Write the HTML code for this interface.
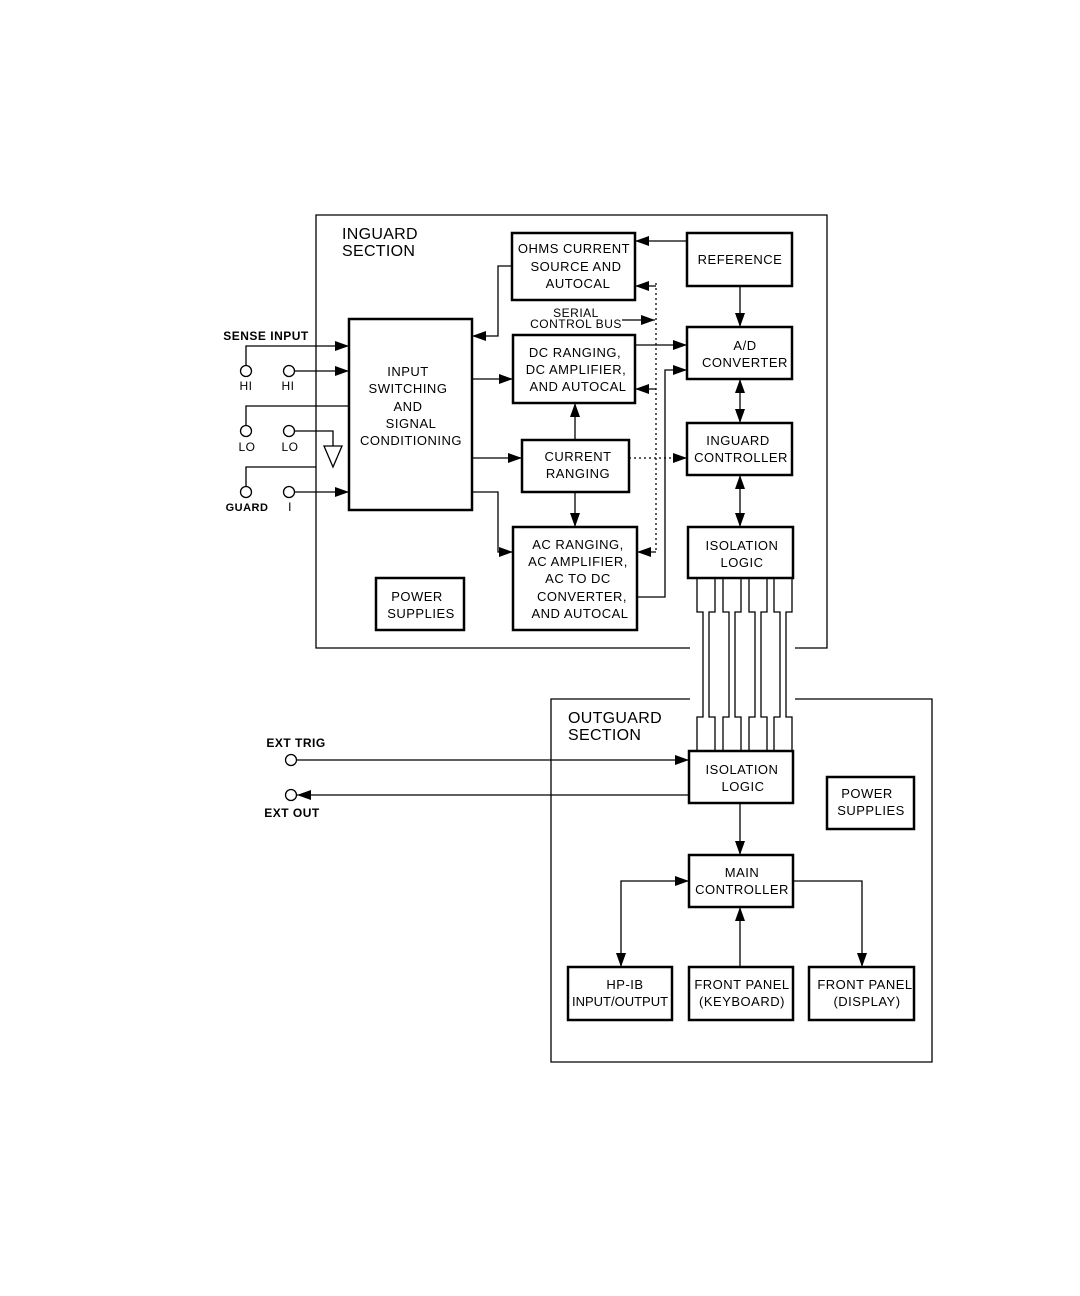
<!DOCTYPE html>
<html><head><meta charset="utf-8"><style>
html,body{margin:0;padding:0;background:#fff;}
svg{display:block;}
text{font-family:"Liberation Sans",sans-serif;font-size:13px;fill:#000;text-anchor:middle;letter-spacing:0.5px;}
.t{font-size:16px;text-anchor:start;letter-spacing:0.3px;}
.s{font-size:12px;font-weight:bold;}
</style></head><body>
<svg width="1080" height="1296" viewBox="0 0 1080 1296" xmlns="http://www.w3.org/2000/svg">
<defs>
<marker id="a" viewBox="0 0 14 10" refX="14" refY="5" markerWidth="14" markerHeight="10" markerUnits="userSpaceOnUse" orient="auto-start-reverse"><path d="M0,0L14,5L0,10z" fill="#000"/></marker>
</defs>
<g fill="none" stroke="#000" stroke-width="1.3">
<path d="M690,648H316V215H827V648H795"/>
<path d="M690,699H551V1062H932V699H795"/>
</g>
<g fill="#fff" stroke="#000" stroke-width="2.5">
<rect x="512" y="233" width="123" height="67"/>
<rect x="687" y="233" width="105" height="53"/>
<rect x="687" y="327" width="105" height="52"/>
<rect x="513" y="335" width="122" height="68"/>
<rect x="349" y="319" width="123" height="191"/>
<rect x="522" y="440" width="107" height="52"/>
<rect x="687" y="423" width="105" height="52"/>
<rect x="513" y="527" width="124" height="103"/>
<rect x="688" y="527" width="105" height="51"/>
<rect x="376" y="578" width="88" height="52"/>
<rect x="689" y="751" width="104" height="52"/>
<rect x="827" y="777" width="87" height="52"/>
<rect x="689" y="855" width="104" height="52"/>
<rect x="568" y="967" width="104" height="53"/>
<rect x="689" y="967" width="104" height="53"/>
<rect x="809" y="967" width="105" height="53"/>
</g>
<g fill="none" stroke="#000" stroke-width="1.3">
<path d="M697,578V612H703V717H697V751M715,578V612H709V717H715V751"/>
<path d="M723,578V612H729V717H723V751M741,578V612H735V717H741V751"/>
<path d="M749,578V612H755V717H749V751M767,578V612H761V717H767V751"/>
<path d="M774,578V612H780V717H774V751M792,578V612H786V717H792V751"/>
<path d="M687,241H635" marker-end="url(#a)"/>
<path d="M740,286V327" marker-end="url(#a)"/>
<path d="M512,266H498V336H472" marker-end="url(#a)"/>
<path d="M635,345H687" marker-end="url(#a)"/>
<path d="M637,597H665V370H687" marker-end="url(#a)"/>
<path d="M472,379H513" marker-end="url(#a)"/>
<path d="M472,458H522" marker-end="url(#a)"/>
<path d="M472,492H498V552H513" marker-end="url(#a)"/>
<path d="M575,440V403" marker-end="url(#a)"/>
<path d="M575,492V527" marker-end="url(#a)"/>
<path d="M740,379V423" marker-start="url(#a)" marker-end="url(#a)"/>
<path d="M740,475V527" marker-start="url(#a)" marker-end="url(#a)"/>
<path d="M740,803V855" marker-end="url(#a)"/>
<path d="M689,881H621V967" marker-start="url(#a)" marker-end="url(#a)"/>
<path d="M740,967V907" marker-end="url(#a)"/>
<path d="M793,881H862V967" marker-end="url(#a)"/>
<path d="M622,320H655" marker-end="url(#a)"/>
<path d="M297,760H689" marker-end="url(#a)"/>
<path d="M689,795H297" marker-end="url(#a)"/>
<path d="M656,283V552" stroke-dasharray="2,3"/>
<path d="M629,458H687" stroke-dasharray="2,3" marker-end="url(#a)"/>
<path d="M656,286H635" marker-end="url(#a)"/>
<path d="M656,389H635" marker-end="url(#a)"/>
<path d="M656,552H637" marker-end="url(#a)"/>
<path d="M246,366V346H349" marker-end="url(#a)"/>
<path d="M294,371H349" marker-end="url(#a)"/>
<path d="M246,426V406H349"/>
<path d="M294,431H333V446"/>
<path d="M324,446H342L333,467Z"/>
<path d="M246,487V467H316"/>
<path d="M294,492H349" marker-end="url(#a)"/>
<circle cx="246" cy="371" r="5.5"/><circle cx="289" cy="371" r="5.5"/>
<circle cx="246" cy="431" r="5.5"/><circle cx="289" cy="431" r="5.5"/>
<circle cx="246" cy="492" r="5.5"/><circle cx="289" cy="492" r="5.5"/>
<circle cx="291" cy="760" r="5.5"/><circle cx="291" cy="795" r="5.5"/>
</g>
<text class="t" x="342" y="239">INGUARD</text>
<text class="t" x="342" y="256">SECTION</text>
<text class="t" x="568" y="723">OUTGUARD</text>
<text class="t" x="568" y="740">SECTION</text>
<text x="574" y="253">OHMS CURRENT</text><text x="576" y="271">SOURCE AND</text><text x="578" y="288">AUTOCAL</text>
<text x="740" y="264">REFERENCE</text>
<text x="745" y="350">A/D</text><text x="745" y="367">CONVERTER</text>
<text x="576" y="317" style="font-size:12px">SERIAL</text><text x="576" y="328" style="font-size:12px">CONTROL BUS</text>
<text x="575" y="357">DC RANGING,</text><text x="576" y="374">DC AMPLIFIER,</text><text x="578" y="391">AND AUTOCAL</text>
<text x="408" y="376">INPUT</text><text x="408" y="393">SWITCHING</text><text x="408" y="411">AND</text><text x="411" y="428">SIGNAL</text><text x="411" y="445">CONDITIONING</text>
<text x="578" y="461">CURRENT</text><text x="578" y="478">RANGING</text>
<text x="738" y="445">INGUARD</text><text x="741" y="462">CONTROLLER</text>
<text x="578" y="549">AC RANGING,</text><text x="578" y="566">AC AMPLIFIER,</text><text x="578" y="583">AC TO DC</text><text x="582" y="601">CONVERTER,</text><text x="580" y="618">AND AUTOCAL</text>
<text x="742" y="550">ISOLATION</text><text x="742" y="567">LOGIC</text>
<text x="417" y="601">POWER</text><text x="421" y="618">SUPPLIES</text>
<text x="742" y="774">ISOLATION</text><text x="743" y="791">LOGIC</text>
<text x="867" y="798">POWER</text><text x="871" y="815">SUPPLIES</text>
<text x="742" y="877">MAIN</text><text x="742" y="894">CONTROLLER</text>
<text x="625" y="989">HP-IB</text><text x="620" y="1006" style="letter-spacing:0">INPUT/OUTPUT</text>
<text x="742" y="989">FRONT PANEL</text><text x="742" y="1006">(KEYBOARD)</text>
<text x="865" y="989">FRONT PANEL</text><text x="867" y="1006">(DISPLAY)</text>
<text class="s" x="266" y="340">SENSE  INPUT</text>
<text x="246" y="390" style="font-size:12px">HI</text><text x="288" y="390" style="font-size:12px">HI</text>
<text x="247" y="451" style="font-size:12px">LO</text><text x="290" y="451" style="font-size:12px">LO</text>
<text class="s" x="247" y="511" style="font-size:11px">GUARD</text><text x="290" y="511" style="font-size:12px">I</text>
<text class="s" x="296" y="747">EXT TRIG</text>
<text class="s" x="292" y="817">EXT OUT</text>
</svg>
</body></html>
